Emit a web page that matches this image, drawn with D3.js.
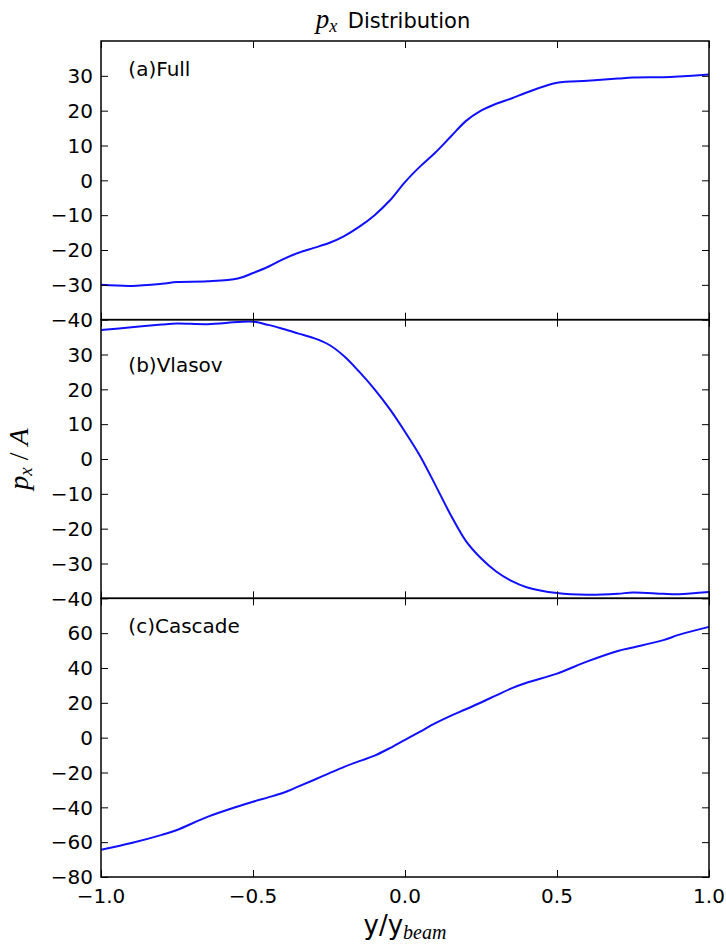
<!DOCTYPE html>
<html>
<head>
<meta charset="utf-8">
<script src="https://cdn.jsdelivr.net/npm/d3@7"></script>
<style>
  body { margin: 0; background: #fff; }
  svg { display: block; }
</style>
</head>
<body>
<svg id="chart" width="726" height="949"></svg>
<script>
// Sample positions along y/y_beam
const yPos = [-1, -0.9, -0.8, -0.75, -0.65, -0.55, -0.5, -0.45, -0.4, -0.35, -0.3, -0.25,
  -0.2, -0.15, -0.1, -0.05, 0, 0.05, 0.1, 0.15, 0.2, 0.25, 0.3, 0.35, 0.4, 0.5, 0.6, 0.7,
  0.75, 0.85, 0.9, 1.0];

// p_x / A for each model
const fullPx = [-30, -30.3, -29.7, -29.2, -29, -28.2, -26.6, -24.8, -22.6, -20.8, -19.4, -18,
  -16, -13.3, -10, -5.8, -0.5, 4, 8, 12.5, 17, 20, 22, 23.5, 25.2, 28, 28.6, 29.2,
  29.5, 29.6, 29.8, 30.4];
const vlasovPx = [37, 37.8, 38.6, 38.9, 38.7, 39.3, 39.4, 38.5, 37.3, 36, 34.7, 32.8,
  29.5, 25, 20, 14.3, 7.8, 0.8, -7.5, -16, -23.5, -28.5, -32.3, -35, -36.8, -38.5, -39, -38.7,
  -38.3, -38.7, -38.8, -38.2];
const cascadePx = [-64.4, -60.5, -55.8, -53, -45.5, -39.5, -36.8, -34.3, -31.6, -28, -24.3, -20.5,
  -16.8, -13.5, -10.3, -6, -1.2, 3.5, 8.3, 12.5, 16.3, 20.2, 24.3, 28.3, 31.5, 36.8, 43.8, 49.8,
  51.8, 56, 59, 63.6];

// Panel labels, y-ranges and tick values
const panelNames = ["(a)Full", "(b)Vlasov", "(c)Cascade"];
const panelDomains = [[-40, 40], [-40, 40], [-80, 80]];
const panelTicks = [
  [-40, -30, -20, -10, 0, 10, 20, 30],
  [-40, -30, -20, -10, 0, 10, 20, 30],
  [-80, -60, -40, -20, 0, 20, 40, 60]
];
const panelLabelY = [30, 25, 60];
const xTicks = [-1.0, -0.5, 0.0, 0.5, 1.0];

const series = [fullPx, vlasovPx, cascadePx];

const svg = d3.select("#chart");
const plotLeft = 101, plotRight = 709, plotTop = 41, plotBottom = 877;
const panelH = (plotBottom - plotTop) / 3;
const tickLen = 7;
const fmtMinus = s => s.replace("-", "\u2212");

const x = d3.scaleLinear().domain([-1, 1]).range([plotLeft, plotRight]);

series.forEach((vals, i) => {
  const y0 = plotTop + i * panelH;
  const y = d3.scaleLinear().domain(panelDomains[i]).range([y0 + panelH, y0]);
  const g = svg.append("g");

  // curve
  const line = d3.line()
    .x(d => x(d[0]))
    .y(d => y(d[1]))
    .curve(d3.curveCatmullRom.alpha(0.5));
  g.append("path")
    .datum(yPos.map((p, k) => [p, vals[k]]))
    .attr("d", line)
    .attr("fill", "none")
    .attr("stroke", "#1010ff")
    .attr("stroke-width", 2);

  // inward ticks on all four sides
  const yl = d3.axisRight(y).tickValues(panelTicks[i]).tickSize(tickLen).tickFormat("");
  g.append("g").attr("transform", `translate(${plotLeft},0)`).call(yl);
  const yr = d3.axisLeft(y).tickValues(panelTicks[i]).tickSize(tickLen).tickFormat("");
  g.append("g").attr("transform", `translate(${plotRight},0)`).call(yr);
  const xt = d3.axisBottom(x).tickValues(xTicks).tickSize(tickLen).tickFormat("");
  g.append("g").attr("transform", `translate(0,${y0})`).call(xt);
  const xb = d3.axisTop(x).tickValues(xTicks).tickSize(tickLen).tickFormat("");
  g.append("g").attr("transform", `translate(0,${y0 + panelH})`).call(xb);
  g.selectAll(".domain").remove();
  g.selectAll(".tick line").attr("stroke", "#000").attr("stroke-width", 1);

  // y tick labels
  g.selectAll("text.ylab")
    .data(panelTicks[i])
    .join("text")
    .attr("class", "ylab")
    .attr("x", plotLeft - 8)
    .attr("y", d => y(d))
    .attr("dy", "0.36em")
    .attr("text-anchor", "end")
    .attr("font-family", "DejaVu Sans")
    .attr("font-size", 20)
    .attr("fill", "#000")
    .text(d => fmtMinus(String(d)));

  // panel label
  g.append("text")
    .attr("x", x(-0.91))
    .attr("y", y(panelLabelY[i]))
    .attr("font-family", "DejaVu Sans")
    .attr("font-size", 20)
    .attr("fill", "#000")
    .text(panelNames[i]);

  // frame
  g.append("rect")
    .attr("x", plotLeft).attr("y", y0)
    .attr("width", plotRight - plotLeft).attr("height", panelH)
    .attr("fill", "none")
    .attr("stroke", "#000")
    .attr("stroke-width", 1.5);
});

// x tick labels
svg.selectAll("text.xlab")
  .data(xTicks)
  .join("text")
  .attr("class", "xlab")
  .attr("x", d => x(d))
  .attr("y", plotBottom + 26)
  .attr("text-anchor", "middle")
  .attr("font-family", "DejaVu Sans")
  .attr("font-size", 20)
  .attr("fill", "#000")
  .text(d => fmtMinus(d3.format(".1f")(d)));

// title
const title = svg.append("text")
  .attr("x", (plotLeft + plotRight) / 2 - 12)
  .attr("y", 28)
  .attr("text-anchor", "middle")
  .attr("fill", "#000");
title.append("tspan").attr("font-family", "Liberation Serif").attr("font-style", "italic")
  .attr("font-size", 27).text("p");
title.append("tspan").attr("font-family", "Liberation Serif").attr("font-style", "italic")
  .attr("font-size", 18).attr("dy", 4).text("x");
title.append("tspan").attr("font-family", "DejaVu Sans").attr("font-size", 21)
  .attr("dy", -4).text("\u2002Distribution");

// x axis label
const xlabel = svg.append("text")
  .attr("x", (plotLeft + plotRight) / 2)
  .attr("y", 934)
  .attr("text-anchor", "middle")
  .attr("fill", "#000");
xlabel.append("tspan").attr("font-family", "DejaVu Sans").attr("font-size", 26).text("y/y");
xlabel.append("tspan").attr("font-family", "Liberation Serif").attr("font-style", "italic")
  .attr("font-size", 20).attr("dy", 5).text("beam");

// y axis label
const ylabel = svg.append("text")
  .attr("transform", `translate(28,${plotTop + 1.5 * panelH}) rotate(-90)`)
  .attr("text-anchor", "middle")
  .attr("fill", "#000")
  .attr("font-family", "Liberation Serif")
  .attr("font-style", "italic");
ylabel.append("tspan").attr("font-size", 28).text("p");
ylabel.append("tspan").attr("font-size", 19).attr("dy", 4).text("x");
ylabel.append("tspan").attr("font-size", 28).attr("dy", -4).attr("font-style", "normal").text(" / ");
ylabel.append("tspan").attr("font-size", 28).text("A");
</script>
</body>
</html>
